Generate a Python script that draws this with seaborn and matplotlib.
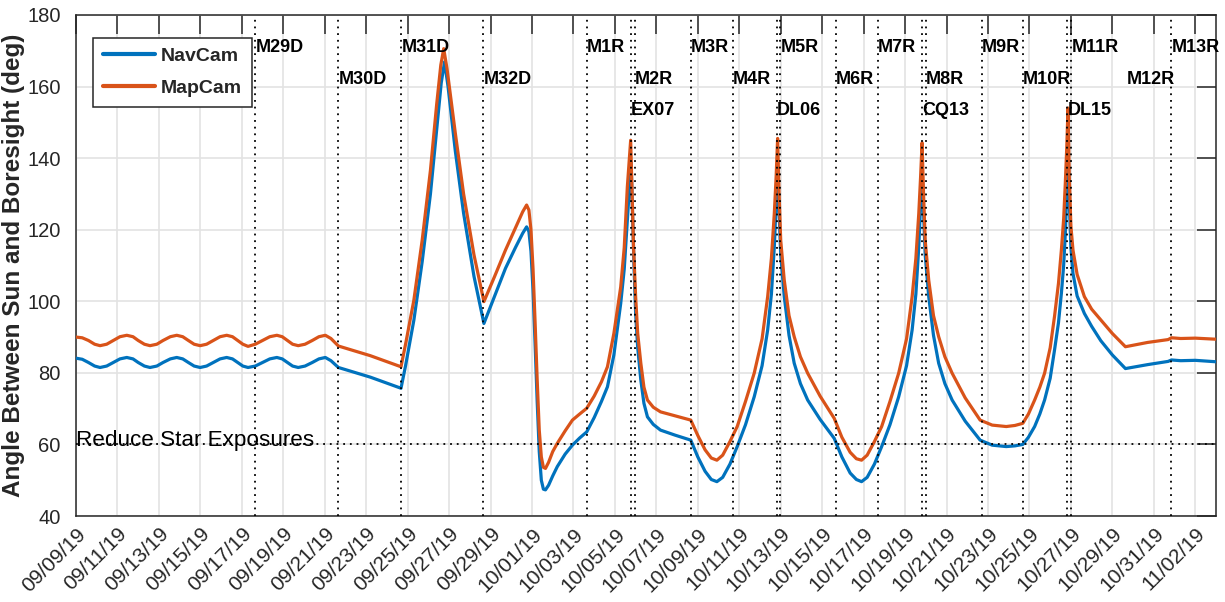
import numpy as np
import pandas as pd
import matplotlib
matplotlib.use("Agg")
import matplotlib.pyplot as plt
import matplotlib.dates as mdates
import seaborn as sns

# ---------------- data ----------------
start_date = "2019-09-09"
end_date = "2019-11-03"

nav_days = [0.0, 0.3, 0.6, 0.9, 1.16, 1.48, 1.8, 2.12, 2.45, 2.75, 3.0, 3.3, 3.57, 3.9, 4.2,
            4.55, 4.86, 5.15, 5.42, 5.7, 5.99, 6.3, 6.62, 6.95, 7.27, 7.55, 7.8, 8.05, 8.3,
            8.65, 9.0, 9.35, 9.69, 9.95, 10.2, 10.45, 10.72, 11.05, 11.4, 11.72, 12.03,
            12.3, 12.66, 14.2, 15.68,
            15.9, 16.3, 16.7, 17.1, 17.4, 17.62, 17.78, 17.95, 18.3, 18.7, 19.2, 19.68,
            20.2, 20.72, 21.2, 21.55, 21.74, 21.85, 21.95, 22.05, 22.15, 22.25, 22.35,
            22.45, 22.55, 22.65, 22.8, 23.0, 23.22, 23.6, 23.95, 24.3, 24.64,
            25.0, 25.35, 25.64, 25.95, 26.28, 26.45, 26.6, 26.7, 26.78,
            26.85, 26.92, 27.0, 27.1, 27.25, 27.4, 27.57, 27.85, 28.2, 28.9, 29.66,
            30.0, 30.35, 30.65, 30.92, 31.2, 31.55, 31.9, 32.3, 32.72, 33.1, 33.37, 33.55,
            33.69, 33.77, 33.84,
            33.92, 34.0, 34.17, 34.4, 34.65, 34.95, 35.3, 35.9, 36.58, 36.95, 37.35, 37.65,
            37.9, 38.17, 38.52, 38.87, 39.27, 39.69, 40.07, 40.34, 40.52, 40.66, 40.74,
            40.81,
            40.89, 40.97, 41.14, 41.37, 41.62, 41.92, 42.27, 42.9, 43.62, 44.2, 44.88,
            45.3, 45.68,
            45.95, 46.25, 46.5, 46.73, 47.0, 47.21, 47.4, 47.54, 47.65, 47.73, 47.8, 47.86,
            47.92, 48.0, 48.1, 48.3, 48.65, 49.0, 49.44, 50.0, 50.63, 51.7, 52.69, 52.85,
            53.3, 54.0, 55.0]
nav_deg = [84.1, 83.8, 82.9, 81.9, 81.5, 81.9, 82.9, 83.9, 84.3, 83.9, 82.9, 81.9, 81.5, 81.9, 82.9,
           83.9, 84.3, 83.9, 82.9, 81.9, 81.5, 81.9, 82.9, 83.9, 84.3, 83.9, 82.9, 81.9, 81.5,
           81.9, 82.9, 83.9, 84.3, 83.9, 82.9, 81.9, 81.5, 81.9, 82.9, 83.9, 84.3,
           83.4, 81.5, 78.8, 75.7,
           82.0, 94.7, 111.0, 130.0, 148.0, 161.0, 166.9, 160.0, 142.0, 124.6, 107.0, 93.8,
           101.5, 109.2, 115.0, 119.0, 120.8, 119.5, 114.0, 103.0, 88.0, 72.0, 58.0,
           50.0, 47.5, 47.3, 48.6, 51.2, 53.8, 57.3, 59.8, 61.8, 63.5,
           67.5, 72.0, 76.1, 85.0, 99.4, 109.0, 122.7, 132.0, 139.0,
           125.0, 110.0, 96.6, 87.0, 78.0, 71.5, 67.7, 65.6, 64.0, 62.6, 61.2,
           56.5, 52.5, 50.2, 49.6, 50.8, 54.5, 59.4, 65.5, 73.3, 82.0, 92.0, 102.0,
           115.2, 126.0, 138.0,
           125.0, 113.0, 101.3, 90.5, 82.7, 77.0, 72.4, 67.0, 61.7, 56.5, 52.0, 50.2,
           49.6, 50.8, 54.5, 59.4, 65.5, 73.3, 82.0, 92.0, 102.0, 115.2, 126.0,
           138.0,
           125.0, 113.0, 101.3, 90.5, 82.7, 77.0, 72.4, 66.5, 61.2, 59.8, 59.4,
           59.6, 60.0,
           62.0, 65.0, 68.5, 72.4, 78.5, 86.4, 94.0, 102.2, 110.0, 119.0, 130.0, 143.0,
           128.0, 115.0, 107.8, 101.5, 96.6, 93.0, 89.0, 85.0, 81.2, 82.3, 83.2, 83.6,
           83.4, 83.5, 83.1]

map_days = [0.0, 0.3, 0.6, 0.9, 1.16, 1.48, 1.8, 2.12, 2.45, 2.75, 3.0, 3.3, 3.57, 3.9, 4.2,
            4.55, 4.86, 5.15, 5.42, 5.7, 5.99, 6.3, 6.62, 6.95, 7.27, 7.55, 7.8, 8.05, 8.3,
            8.65, 9.0, 9.35, 9.69, 9.95, 10.2, 10.45, 10.72, 11.05, 11.4, 11.72, 12.03,
            12.3, 12.66, 14.2, 15.68,
            15.9, 16.3, 16.7, 17.1, 17.4, 17.6, 17.74, 17.9, 18.3, 18.7, 19.2, 19.68,
            20.2, 20.72, 21.2, 21.55, 21.74, 21.85, 21.95, 22.05, 22.15, 22.25, 22.35,
            22.45, 22.55, 22.65, 22.8, 23.0, 23.22, 23.6, 23.95, 24.3, 24.64,
            25.0, 25.35, 25.64, 25.95, 26.28, 26.45, 26.6, 26.7, 26.76,
            26.83, 26.9, 27.0, 27.1, 27.25, 27.4, 27.57, 27.85, 28.2, 28.9, 29.66,
            30.0, 30.35, 30.65, 30.92, 31.2, 31.55, 31.9, 32.3, 32.72, 33.1, 33.37, 33.55,
            33.69, 33.78, 33.85,
            33.92, 34.0, 34.17, 34.4, 34.65, 34.95, 35.3, 35.9, 36.58, 36.95, 37.35, 37.65,
            37.9, 38.17, 38.52, 38.87, 39.27, 39.69, 40.07, 40.34, 40.52, 40.66, 40.75,
            40.82,
            40.89, 40.97, 41.14, 41.37, 41.62, 41.92, 42.27, 42.9, 43.62, 44.2, 44.88,
            45.3, 45.68,
            45.95, 46.25, 46.5, 46.73, 47.0, 47.21, 47.4, 47.54, 47.65, 47.73, 47.8, 47.86,
            47.92, 48.0, 48.1, 48.3, 48.65, 49.0, 49.44, 50.0, 50.63, 51.7, 52.69, 52.85,
            53.3, 54.0, 55.0]
map_deg = [90.0, 89.8, 89.05, 88.0, 87.6, 88.0, 89.05, 90.1, 90.5, 90.1, 89.05, 88.0, 87.6, 88.0, 89.05,
           90.1, 90.5, 90.1, 89.05, 88.0, 87.6, 88.0, 89.05, 90.1, 90.5, 90.1, 89.05, 88.0, 87.4,
           88.0, 89.05, 90.1, 90.5, 90.1, 89.05, 88.0, 87.6, 88.0, 89.05, 90.1, 90.5,
           89.6, 87.5, 84.8, 81.7,
           88.0, 100.3, 117.0, 136.6, 155.0, 166.0, 170.6, 165.0, 147.0, 130.0, 113.0, 99.9,
           107.0, 114.3, 120.5, 125.0, 126.9, 125.5, 120.0, 109.0, 94.0, 78.0, 64.0,
           56.5, 53.6, 53.3, 55.0, 58.0, 60.3, 63.8, 66.8, 68.5, 70.1,
           73.5, 77.5, 81.7, 91.0, 104.0, 115.0, 132.0, 140.0, 145.0,
           130.0, 115.0, 101.3, 91.0, 82.7, 76.0, 72.4, 70.4, 69.1, 68.0, 66.8,
           62.5, 58.5, 56.2, 55.6, 57.0, 60.8, 65.0, 72.0, 79.9, 89.5, 101.3, 112.0,
           124.5, 135.0, 145.5,
           130.0, 117.0, 105.9, 96.0, 90.1, 84.5, 79.9, 73.5, 67.3, 62.0, 57.8, 56.0,
           55.6, 57.0, 60.8, 65.0, 72.0, 79.9, 89.5, 101.3, 112.0, 124.5, 135.0,
           144.3,
           130.0, 117.0, 105.9, 96.0, 90.1, 84.5, 79.9, 73.0, 66.8, 65.4, 65.0,
           65.3, 65.9,
           68.5, 72.4, 76.0, 79.9, 87.0, 95.8, 105.0, 114.3, 123.0, 133.0, 143.0, 154.0,
           135.0, 121.0, 114.3, 107.5, 101.3, 97.8, 94.8, 91.0, 87.3, 88.5, 89.3, 89.8,
           89.6, 89.7, 89.4]

series_names = ["NavCam", "MapCam"]
series_colors = ["#0072BD", "#D95319"]

event_names = ["M29D", "M30D", "M31D", "M32D", "M1R", "EX07", "M2R", "M3R", "M4R",
               "DL06", "M5R", "M6R", "M7R", "CQ13", "M8R", "M9R", "M10R", "DL15",
               "M11R", "M12R", "M13R"]
event_days = [8.65, 12.66, 15.70, 19.66, 24.64, 26.76, 26.96, 29.66, 31.69,
              33.80, 33.98, 36.67, 38.70, 40.82, 41.00, 43.70, 45.68, 47.83,
              48.02, 50.68, 52.85]
event_rows = [1, 2, 1, 2, 1, 3, 2, 1, 2, 3, 1, 2, 1, 3, 2, 1, 2, 3, 1, 2, 1]
event_has_line = [True] * 19 + [False, True]
row_levels = {1: 171.0, 2: 162.1, 3: 153.4}

reduce_level = 60
reduce_label = "Reduce Star Exposures"
y_label = "Angle Between Sun and Boresight (deg)"
y_ticks = [40, 60, 80, 100, 120, 140, 160, 180]

# ---------------- build table ----------------
base = pd.Timestamp(start_date)
df = pd.concat([
    pd.DataFrame({"date": base + pd.to_timedelta(nav_days, unit="D"),
                  "angle": nav_deg, "camera": series_names[0]}),
    pd.DataFrame({"date": base + pd.to_timedelta(map_days, unit="D"),
                  "angle": map_deg, "camera": series_names[1]}),
], ignore_index=True)

# ---------------- style ----------------
sns.set_theme(style="white")
plt.rcParams["font.family"] = ["Liberation Sans", "DejaVu Sans"]
dark = "#262626"

fig = plt.figure(figsize=(12.25, 6.02), dpi=100)
ax = fig.add_axes([76 / 1225, 1 - 516 / 602, (1216 - 76) / 1225, (516 - 15) / 602])

sns.lineplot(data=df, x="date", y="angle", hue="camera", hue_order=series_names,
             palette=series_colors, linewidth=2.3, ax=ax, zorder=3, sort=False,
             estimator=None)
for ln in ax.get_lines():
    ln.set_solid_joinstyle("round")
    ln.set_solid_capstyle("round")

dot_style = (0, (1, 2.7))
for name, d, row, has_line in zip(event_names, event_days, event_rows, event_has_line):
    xd = base + pd.Timedelta(days=d)
    if has_line:
        ax.axvline(xd, color="black", linestyle=dot_style, linewidth=1.3, zorder=4)
    ax.text(xd, row_levels[row], name, ha="left", va="center", fontsize=13,
            fontweight="bold", color="black", zorder=6)

ax.axhline(reduce_level, color="black", linestyle=dot_style, linewidth=1.3, zorder=4)
ax.text(base + pd.Timedelta(days=0.02), reduce_level - 0.4, reduce_label, ha="left",
        va="baseline", fontsize=16.2, color="black", zorder=6)

ax.set_xlim(base, pd.Timestamp(end_date))
ax.set_ylim(40, 180)
ax.set_yticks(y_ticks)
ax.xaxis.set_major_locator(mdates.DayLocator(interval=2))
ax.xaxis.set_major_formatter(mdates.DateFormatter("%m/%d/%y"))

ax.tick_params(axis="both", direction="in", length=14, width=1.1, color=dark,
               top=True, right=True, labelcolor=dark)
ax.tick_params(axis="x", labelsize=15, pad=6)
ax.tick_params(axis="y", labelsize=14.5, pad=11)
for lab in ax.get_xticklabels():
    lab.set_rotation(45)
    lab.set_ha("right")
    lab.set_rotation_mode("anchor")

ax.grid(True, color="#e3e3e3", linewidth=1.2, zorder=0)
ax.set_axisbelow(True)
for sp in ax.spines.values():
    sp.set_color(dark)
    sp.set_linewidth(1.1)

ax.set_xlabel("")
ax.set_ylabel(y_label, fontsize=17.5, fontweight="bold", color=dark)
ax.yaxis.set_label_coords(-0.0445, 0.5)

handles, labels = ax.get_legend_handles_labels()
leg = ax.legend(handles, labels, loc="upper left", bbox_to_anchor=(0.0149, 0.955),
                borderaxespad=0, frameon=True, fancybox=False, edgecolor=dark,
                framealpha=1, prop={"size": 14, "weight": "bold"}, handlelength=2.7,
                borderpad=0.5, labelspacing=0.75, handletextpad=0.3)
leg.get_frame().set_linewidth(1.1)
for line in leg.get_lines():
    line.set_linewidth(3)
leg.set_zorder(10)

fig.savefig("out.png", dpi=100)
